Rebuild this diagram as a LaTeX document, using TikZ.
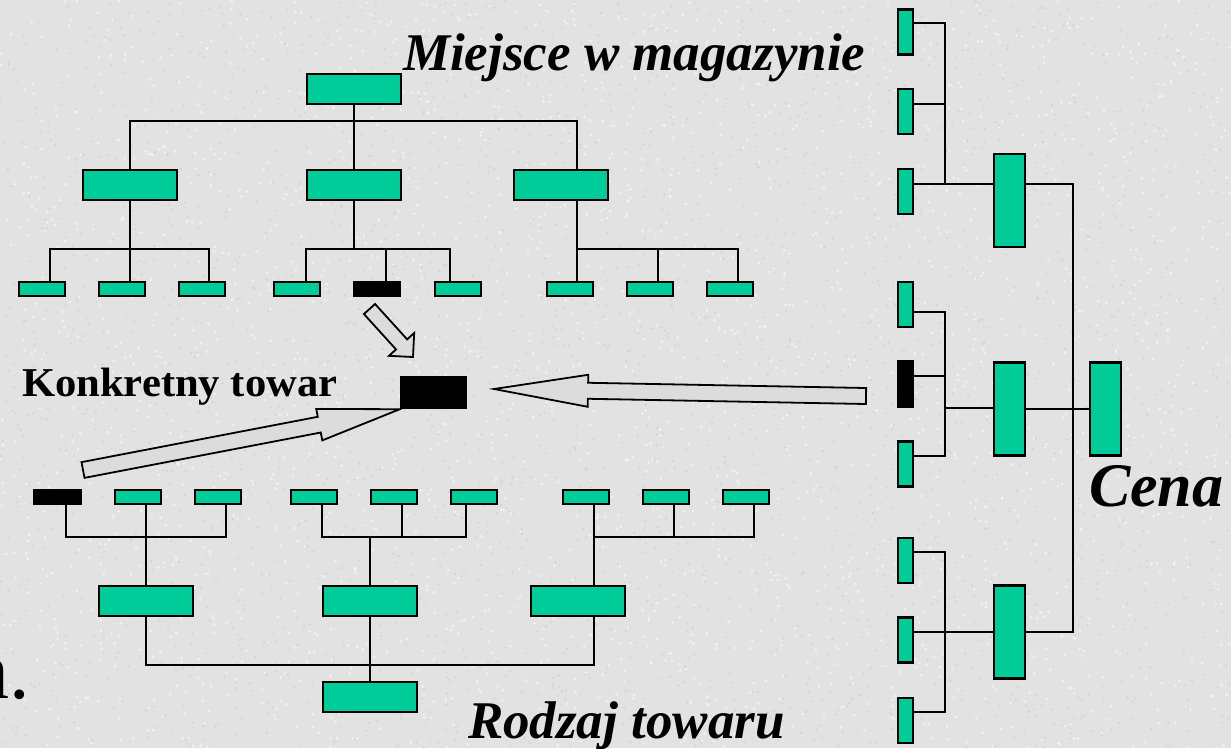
\documentclass[tikz,border=0pt]{standalone}
\usepackage{fontspec}
\usepackage{graphicx}
\setmainfont{Liberation Serif}
\usetikzlibrary{calc}
\definecolor{tealbox}{RGB}{0,204,153}
\definecolor{bgcol}{RGB}{226,226,226}
\definecolor{arrfill}{RGB}{220,220,220}
% block arrow: {tail} {tip} {shaft half width} {head half width} {head length}
\newcommand\blockarrow[5]{%
  \coordinate (hb) at ($(#2)!#5!(#1)$);
  \draw[blk] ($(#1)!#3!90:(#2)$) -- ($(hb)!#3!-90:(#1)$) -- ($(hb)!#4!-90:(#1)$)
    -- (#2) -- ($(hb)!#4!90:(#1)$) -- ($(hb)!#3!90:(#1)$) -- ($(#1)!#3!-90:(#2)$) -- cycle;}
\begin{document}
\begin{tikzpicture}[x=1pt,y=-1pt,
  box/.style={draw=black,line width=2.2pt,fill=tealbox,inner sep=0pt,outer sep=0pt,rectangle},
  big/.style={box,minimum width=94pt,minimum height=30pt},
  leaf/.style={box,minimum width=46pt,minimum height=14pt},
  vleaf/.style={box,minimum width=15pt,minimum height=45pt},
  vmid/.style={box,minimum width=31pt,minimum height=93pt},
  sel/.style={fill=black},
  wire/.style={line width=1.8pt},
  blk/.style={draw=black,line width=1.8pt,fill=arrfill,line join=miter},
  lbl/.style={inner sep=0pt,outer sep=0pt}]
\fill[bgcol] (0,0) rectangle (1231,748);
\useasboundingbox (0,0) rectangle (1231,748);
% background speckle
\pgfmathsetseed{7}
\foreach \i in {1,...,2500}{
  \pgfmathsetmacro{\px}{rnd*1231}\pgfmathsetmacro{\py}{rnd*748}
  \fill[gray!50,opacity=0.35] (\px,\py) circle (1.3pt);}
\foreach \i in {1,...,2500}{
  \pgfmathsetmacro{\px}{rnd*1231}\pgfmathsetmacro{\py}{rnd*748}
  \fill[white,opacity=0.55] (\px,\py) circle (1.5pt);}

% ---------- texts ----------
\node[lbl,anchor=base west,font=\fontsize{53}{53}\selectfont\bfseries\itshape] (tmag) at (403,70) {Miejsce w magazynie};
\node[lbl,anchor=base west,font=\fontsize{53}{53}\selectfont\bfseries\itshape] (trodz) at (468,738) {Rodzaj towaru};
\node[lbl,anchor=base west,font=\fontsize{62}{62}\selectfont\bfseries\itshape] (tcena) at (1089,506) {Cena};
\node[lbl,anchor=base west,font=\fontsize{41}{41}\selectfont\bfseries] (tkonk) at (22,396) {\scalebox{1.04}[1]{Konkretny towar}};
\node[lbl,anchor=base west,font=\fontsize{82}{82}\selectfont] (tn) at (-31,698) {n.};

% ---------- top tree (Miejsce w magazynie) ----------
\node[big] (T0) at (354,89) {};
\node[big] (T1) at (130,185) {};
\node[big] (T2) at (354,185) {};
\node[big] (T3) at (561,185) {};
\node[leaf] (L1) at (42,289) {};
\node[leaf] (L2) at (122,289) {};
\node[leaf] (L3) at (202,289) {};
\node[leaf] (L4) at (297,289) {};
\node[leaf,sel] (L5) at (377,289) {};
\node[leaf] (L6) at (458,289) {};
\node[leaf] (L7) at (570,289) {};
\node[leaf] (L8) at (650,289) {};
\node[leaf] (L9) at (730,289) {};
\coordinate (tbL) at (130,121); \coordinate (tbR) at (577,121);
\draw[wire] (tbL |- T1.north) -- (tbL) -- (tbR) -- (tbR |- T3.north);
\draw[wire] (T0.south) -- (T2.north);
\coordinate (a1) at (50,249); \coordinate (a2) at (130,249); \coordinate (a3) at (209,249);
\draw[wire] (T1.south) -- (a2);
\draw[wire] (a1 |- L1.north) -- (a1) -- (a3) -- (a3 |- L3.north);
\draw[wire] (a2) -- (a2 |- L2.north);
\coordinate (b1) at (306,249); \coordinate (b2) at (386,249); \coordinate (b3) at (450,249); \coordinate (b0) at (354,249);
\draw[wire] (T2.south) -- (b0);
\draw[wire] (b1 |- L4.north) -- (b1) -- (b3) -- (b3 |- L6.north);
\draw[wire] (b2) -- (b2 |- L5.north);
\coordinate (c1) at (577,249); \coordinate (c2) at (658,249); \coordinate (c3) at (738,249);
\draw[wire] (c1 |- T3.south) -- (c1 |- L7.north);
\draw[wire] (c1) -- (c3) -- (c3 |- L9.north);
\draw[wire] (c2) -- (c2 |- L8.north);

% ---------- bottom tree (Rodzaj towaru) ----------
\node[leaf,sel] (B1) at (57.5,497) {};
\node[leaf] (B2) at (138,497) {};
\node[leaf] (B3) at (218,497) {};
\node[leaf] (B4) at (314,497) {};
\node[leaf] (B5) at (394,497) {};
\node[leaf] (B6) at (474,497) {};
\node[leaf] (B7) at (586,497) {};
\node[leaf] (B8) at (666,497) {};
\node[leaf] (B9) at (746,497) {};
\node[big] (M1) at (146,601) {};
\node[big] (M2) at (370,601) {};
\node[big] (M3) at (578,601) {};
\node[big] (M0) at (370,697) {};
\coordinate (d1) at (66,537); \coordinate (d2) at (146,537); \coordinate (d3) at (226,537);
\draw[wire] (d1 |- B1.south) -- (d1) -- (d3) -- (d3 |- B3.south);
\draw[wire] (d2 |- B2.south) -- (d2) -- (M1.north);
\coordinate (e1) at (322,537); \coordinate (e2) at (402,537); \coordinate (e3) at (466,537); \coordinate (e0) at (370,537);
\draw[wire] (e1 |- B4.south) -- (e1) -- (e3) -- (e3 |- B6.south);
\draw[wire] (e2 |- B5.south) -- (e2);
\draw[wire] (e0) -- (M2.north);
\coordinate (f1) at (594,537); \coordinate (f2) at (674,537); \coordinate (f3) at (754,537);
\draw[wire] (f1 |- B7.south) -- (f1 |- M3.north);
\draw[wire] (f1) -- (f3) -- (f3 |- B9.south);
\draw[wire] (f2 |- B8.south) -- (f2);
\coordinate (g1) at (146,665); \coordinate (g3) at (594,665); \coordinate (g0) at (370,665);
\draw[wire] (M1.south) -- (g1) -- (g3) -- (g3 |- M3.south);
\draw[wire] (M2.south) -- (M0.north);

% ---------- right tree (Cena) ----------
\node[vleaf] (R1) at (905.5,32) {};
\node[vleaf] (R2) at (905.5,111.5) {};
\node[vleaf] (R3) at (905.5,191.5) {};
\node[vleaf] (R4) at (905.5,304.5) {};
\node[vleaf,sel] (R5) at (905.5,384) {};
\node[vleaf] (R6) at (905.5,464) {};
\node[vleaf] (R7) at (905.5,560.5) {};
\node[vleaf] (R8) at (905.5,640) {};
\node[vleaf] (R9) at (905.5,720.5) {};
\node[vmid] (MA) at (1009.5,200.5) {};
\node[vmid] (MB) at (1009.5,409) {};
\node[vmid] (MC) at (1009.5,632) {};
\node[vmid] (RT) at (1105.5,409) {};
\coordinate (p1) at (945,23); \coordinate (p2) at (945,104); \coordinate (p3) at (945,184);
\draw[wire] (R1.east |- p1) -- (p1) -- (p3) -- (MA.west |- p3);
\draw[wire] (R2.east |- p2) -- (p2);
\draw[wire] (R3.east |- p3) -- (p3);
\coordinate (q1) at (945,312); \coordinate (q2) at (945,376); \coordinate (q3) at (945,456); \coordinate (q0) at (945,408);
\draw[wire] (R4.east |- q1) -- (q1) -- (q3) -- (R6.east |- q3);
\draw[wire] (R5.east |- q2) -- (q2);
\draw[wire] (q0) -- (MB.west |- q0);
\coordinate (s1) at (945,552); \coordinate (s2) at (945,632); \coordinate (s3) at (945,712);
\draw[wire] (R7.east |- s1) -- (s1) -- (s3) -- (R9.east |- s3);
\draw[wire] (R8.east |- s2) -- (MC.west |- s2);
\coordinate (v1) at (1073,184); \coordinate (v2) at (1073,632);
\draw[wire] (MA.east |- v1) -- (v1) -- (v2) -- (MC.east |- v2);
\draw[wire] (MB.east) -- (RT.west);

% ---------- target item and block arrows ----------
\node[rectangle,fill=black,inner sep=0pt,minimum width=67pt,minimum height=33pt] (K) at (433.5,392.5) {};
\coordinate (ar1s) at (369.5,309); \coordinate (ar1e) at (413,357);
\blockarrow{ar1s}{ar1e}{7.5pt}{17pt}{17pt}
\coordinate (ar2s) at (866,396); \coordinate (ar2e) at (494,389);
\blockarrow{ar2s}{ar2e}{8pt}{16pt}{94pt}
\coordinate (ar3s) at (83,470); \coordinate (ar3e) at (K.south west);
\blockarrow{ar3s}{ar3e}{8pt}{16pt}{82pt}
\end{tikzpicture}
\end{document}
